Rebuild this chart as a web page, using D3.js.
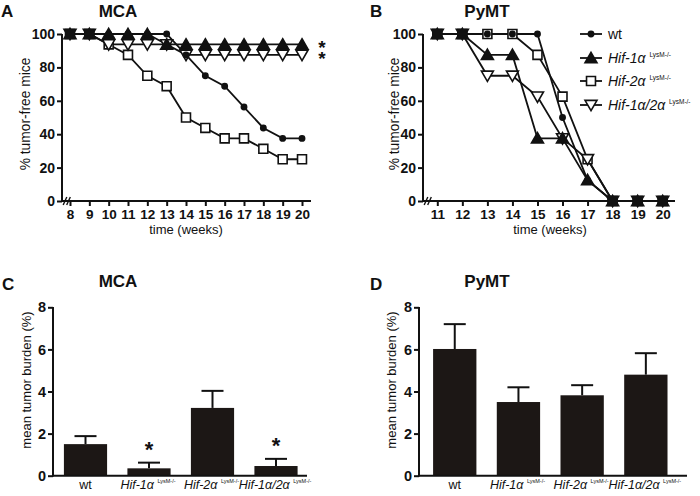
<!DOCTYPE html>
<html><head><meta charset="utf-8">
<script src="https://cdn.jsdelivr.net/npm/d3@7"></script>
<style>body{margin:0;background:#fff}svg{display:block}text{font-family:Arial,"Liberation Sans",sans-serif;fill:#111}</style>
</head><body><svg width="700" height="496"></svg>
<script>
// ---------- DATA ----------
const seriesNames = ["wt", "Hif-1α", "Hif-2α", "Hif-1α/2α"];
const supText = "LysM-/-";
const weeksMCA = [8, 9, 10, 11, 12, 13, 14, 15, 16, 17, 18, 19, 20];
const mcaWt     = [100, 100, 100, 100, 100, 100, 87.5, 75, 68.75, 56.25, 43.75, 37.5, 37.5];
const mcaHif1a  = [100, 100, 100, 100, 100, 93.75, 93.75, 93.75, 93.75, 93.75, 93.75, 93.75, 93.75];
const mcaHif2a  = [100, 100, 93.75, 87.5, 75, 68.75, 50, 43.75, 37.5, 37.5, 31.25, 25, 25];
const mcaHif12a = [100, 100, 93.75, 93.75, 93.75, 93.75, 87.5, 87.5, 87.5, 87.5, 87.5, 87.5, 87.5];
const weeksPyMT = [11, 12, 13, 14, 15, 16, 17, 18, 19, 20];
const pymtWt     = [100, 100, 100, 100, 100, 50, 12.5, 0, 0, 0];
const pymtHif1a  = [100, 100, 87.5, 87.5, 37.5, 37.5, 12.5, 0, 0, 0];
const pymtHif2a  = [100, 100, 100, 100, 87.5, 62.5, 25, 0, 0, 0];
const pymtHif12a = [100, 100, 75, 75, 62.5, 37.5, 25, 0, 0, 0];
const survivalTicks = [0, 20, 40, 60, 80, 100];
const barGroups = ["wt", "Hif-1α", "Hif-2α", "Hif-1α/2α"];
const mcaMean = [1.5, 0.35, 3.22, 0.46];
const mcaErr  = [1.88, 0.62, 4.03, 0.8];
const mcaSig  = [false, true, false, true];
const pymtMean = [6.02, 3.5, 3.82, 4.8];
const pymtErr  = [7.2, 4.2, 4.3, 5.82];
const burdenTicks = [0, 2, 4, 6, 8];

// ---------- DRAW ----------
const svg = d3.select("svg");
const INK = "#111";
const BAR = "#1c1715";

function label(x, y, txt, size, weight, anchor) {
  return svg.append("text").attr("x", x).attr("y", y).attr("font-size", size)
    .attr("font-weight", weight || "normal").attr("text-anchor", anchor || "start").text(txt);
}

const markerDefs = [
  {type: d3.symbolCircle, size: 22, fill: INK, rot: 0},
  {type: d3.symbolTriangle, size: 62, fill: INK, rot: 0},
  {type: d3.symbolSquare, size: 80, fill: "#fff", rot: 0},
  {type: d3.symbolTriangle, size: 62, fill: "#fff", rot: 180}
];
function marker(g, x, y, i) {
  const m = markerDefs[i];
  const dy = m.type === d3.symbolTriangle ? (m.rot ? -1.2 : 1.2) : 0;
  g.append("path").attr("d", d3.symbol().type(m.type).size(m.size)())
    .attr("transform", `translate(${x},${y + dy}) rotate(${m.rot})`)
    .attr("fill", m.fill).attr("stroke", INK).attr("stroke-width", 1.6);
}

function survivalPanel(o) {
  const x = d3.scaleLinear().domain(o.domain).range(o.xr);
  const y = d3.scaleLinear().domain([0, 100]).range([201, 34]);
  const g = svg.append("g");
  const ya = g.append("g").attr("transform", `translate(${o.axisX},0)`)
    .call(d3.axisLeft(y).tickValues(survivalTicks).tickSize(5).tickPadding(2));
  const xa = g.append("g").attr("transform", `translate(0,201)`)
    .call(d3.axisBottom(x).tickValues(o.weeks).tickFormat(d3.format("d")).tickSize(5).tickPadding(3));
  [ya, xa].forEach(a => {
    a.select(".domain").remove();
    a.selectAll("line").attr("stroke", INK).attr("stroke-width", 2);
    a.selectAll("text").attr("font-size", 14).attr("font-weight", "bold").attr("fill", INK)
      .attr("font-family", "Arial, 'Liberation Sans', sans-serif");
  });
  xa.selectAll("text").attr("font-size", 13.5);
  g.append("line").attr("x1", o.axisX).attr("x2", o.axisX).attr("y1", 34).attr("y2", 201.5)
    .attr("stroke", INK).attr("stroke-width", 2);
  g.append("line").attr("x1", o.axisX).attr("x2", o.xEnd).attr("y1", 201).attr("y2", 201)
    .attr("stroke", INK).attr("stroke-width", 2);
  [o.axisX + 3, o.axisX + 6.5].forEach(bx => {
    g.append("line").attr("x1", bx - 1.8).attr("x2", bx + 1.8).attr("y1", 205).attr("y2", 197)
      .attr("stroke", INK).attr("stroke-width", 1.4);
  });
  const line = d3.line().x(d => x(d[0])).y(d => y(d[1]));
  const order = [2, 3, 1, 0];
  order.forEach(i => {
    const pts = o.weeks.map((w, k) => [w, o.series[i][k]]);
    g.append("path").attr("d", line(pts)).attr("fill", "none").attr("stroke", INK).attr("stroke-width", 1.8);
  });
  order.forEach(i => {
    o.weeks.forEach((w, k) => marker(g, x(w), y(o.series[i][k]), i));
  });
  o.weeks.forEach((w, k) => {
    const vals = o.series.map(s => s[k]);
    if (vals.every(v => v === vals[0])) {
      g.append("rect").attr("x", x(w) - 5).attr("y", y(vals[0]) - 5).attr("width", 10).attr("height", 10)
        .attr("fill", INK);
    }
  });
  label(o.letterX, 17, o.letter, 17, "bold");
  label(o.titleX, 17, o.title, 17, "bold", "middle");
  label(o.xTitleX, 234, "time (weeks)", 13, "normal", "middle");
  svg.append("text").attr("transform", `translate(${o.yTitleX},114) rotate(-90)`)
    .attr("text-anchor", "middle").attr("font-size", 13.8).text("% tumor-free mice");
  return {x, y, g};
}

const A = survivalPanel({domain: [8, 20], xr: [70, 302], axisX: 62, xEnd: 311, weeks: weeksMCA,
  series: [mcaWt, mcaHif1a, mcaHif2a, mcaHif12a], letter: "A", letterX: 1, title: "MCA", titleX: 118,
  xTitleX: 186, yTitleX: 30});
// significance stars for the two flat series (one text element, two rows)
const stars = svg.append("text").attr("font-size", 19).attr("font-weight", "bold").attr("text-anchor", "middle");
[mcaHif1a, mcaHif12a].forEach(s => {
  stars.append("tspan").attr("x", 322).attr("y", A.y(s[s.length - 1]) + 10).text("*");
});

const B = survivalPanel({domain: [11, 20], xr: [437.3, 662.7], axisX: 423, xEnd: 675, weeks: weeksPyMT,
  series: [pymtWt, pymtHif1a, pymtHif2a, pymtHif12a], letter: "B", letterX: 370, title: "PyMT", titleX: 487,
  xTitleX: 550, yTitleX: 399});

const legY = [34, 58, 81, 105];
seriesNames.forEach((n, i) => {
  svg.append("line").attr("x1", 580).attr("x2", 602).attr("y1", legY[i]).attr("y2", legY[i])
    .attr("stroke", INK).attr("stroke-width", 1.8);
  marker(svg, 591, legY[i], i);
  const t = svg.append("text").attr("x", 608).attr("y", legY[i] + 5).attr("font-size", 14);
  if (n === "wt") t.text(n);
  else {
    t.append("tspan").attr("font-style", "italic").text(n + " ");
    t.append("tspan").attr("font-size", 6.5).attr("dy", -6).text(supText);
  }
});

function barPanel(o) {
  const x = d3.scaleBand().domain(barGroups).range(o.xr).paddingInner(0.32).paddingOuter(0.16);
  const y = d3.scaleLinear().domain([0, 8]).range([475.7, 307.3]);
  const g = svg.append("g");
  const ya = g.append("g").attr("transform", `translate(${o.axisX},0)`)
    .call(d3.axisLeft(y).tickValues(burdenTicks).tickSize(5).tickPadding(2));
  ya.select(".domain").remove();
  ya.selectAll("line").attr("stroke", INK).attr("stroke-width", 2);
  ya.selectAll("text").attr("font-size", 14.5).attr("font-weight", "bold").attr("fill", INK)
    .attr("font-family", "Arial, 'Liberation Sans', sans-serif");
  g.append("line").attr("x1", o.axisX).attr("x2", o.axisX).attr("y1", 307).attr("y2", 476.5)
    .attr("stroke", INK).attr("stroke-width", 2);
  barGroups.forEach((b, i) => {
    const cx = x(b) + x.bandwidth() / 2;
    g.append("line").attr("x1", cx).attr("x2", cx).attr("y1", y(o.mean[i])).attr("y2", y(o.err[i]))
      .attr("stroke", INK).attr("stroke-width", 2);
    g.append("line").attr("x1", cx - 11).attr("x2", cx + 11).attr("y1", y(o.err[i])).attr("y2", y(o.err[i]))
      .attr("stroke", INK).attr("stroke-width", 2);
  });
  g.selectAll("rect.bar").data(barGroups).join("rect").attr("class", "bar")
    .attr("x", d => x(d)).attr("width", x.bandwidth())
    .attr("y", (d, i) => y(o.mean[i])).attr("height", (d, i) => y(0) - y(o.mean[i]))
    .attr("fill", BAR);
  g.append("line").attr("x1", o.axisX).attr("x2", o.xEnd).attr("y1", 475.7).attr("y2", 475.7)
    .attr("stroke", INK).attr("stroke-width", 2);
  barGroups.forEach((b, i) => {
    const cx = x(b) + x.bandwidth() / 2;
    const t = g.append("text").attr("x", cx - (b === "wt" ? 0 : 1)).attr("y", 489).attr("font-size", 12.5)
      .attr("text-anchor", "middle");
    if (b === "wt") t.text(b);
    else {
      t.append("tspan").attr("font-style", "italic").text(b + " ");
      t.append("tspan").attr("font-size", 5.5).attr("dy", -6).text(supText);
    }
    if (o.sig && o.sig[i]) {
      g.append("text").attr("x", cx).attr("y", y(o.err[i]) - 6).attr("font-size", 22)
        .attr("font-weight", "bold").attr("text-anchor", "middle").text("*");
    }
  });
  label(o.letterX, 290, o.letter, 17, "bold");
  label(o.titleX, 287, o.title, 17, "bold", "middle");
  svg.append("text").attr("transform", `translate(${o.yTitleX},380) rotate(-90)`)
    .attr("text-anchor", "middle").attr("font-size", 13).text("mean tumor burden (%)");
}

barPanel({xr: [53.75, 307.75], axisX: 53, xEnd: 307, mean: mcaMean, err: mcaErr, sig: mcaSig,
  letter: "C", letterX: 2, title: "MCA", titleX: 118, yTitleX: 31});
barPanel({xr: [422.9, 677.7], axisX: 419, xEnd: 687, mean: pymtMean, err: pymtErr, sig: null,
  letter: "D", letterX: 370, title: "PyMT", titleX: 487, yTitleX: 396});
</script></body></html>
